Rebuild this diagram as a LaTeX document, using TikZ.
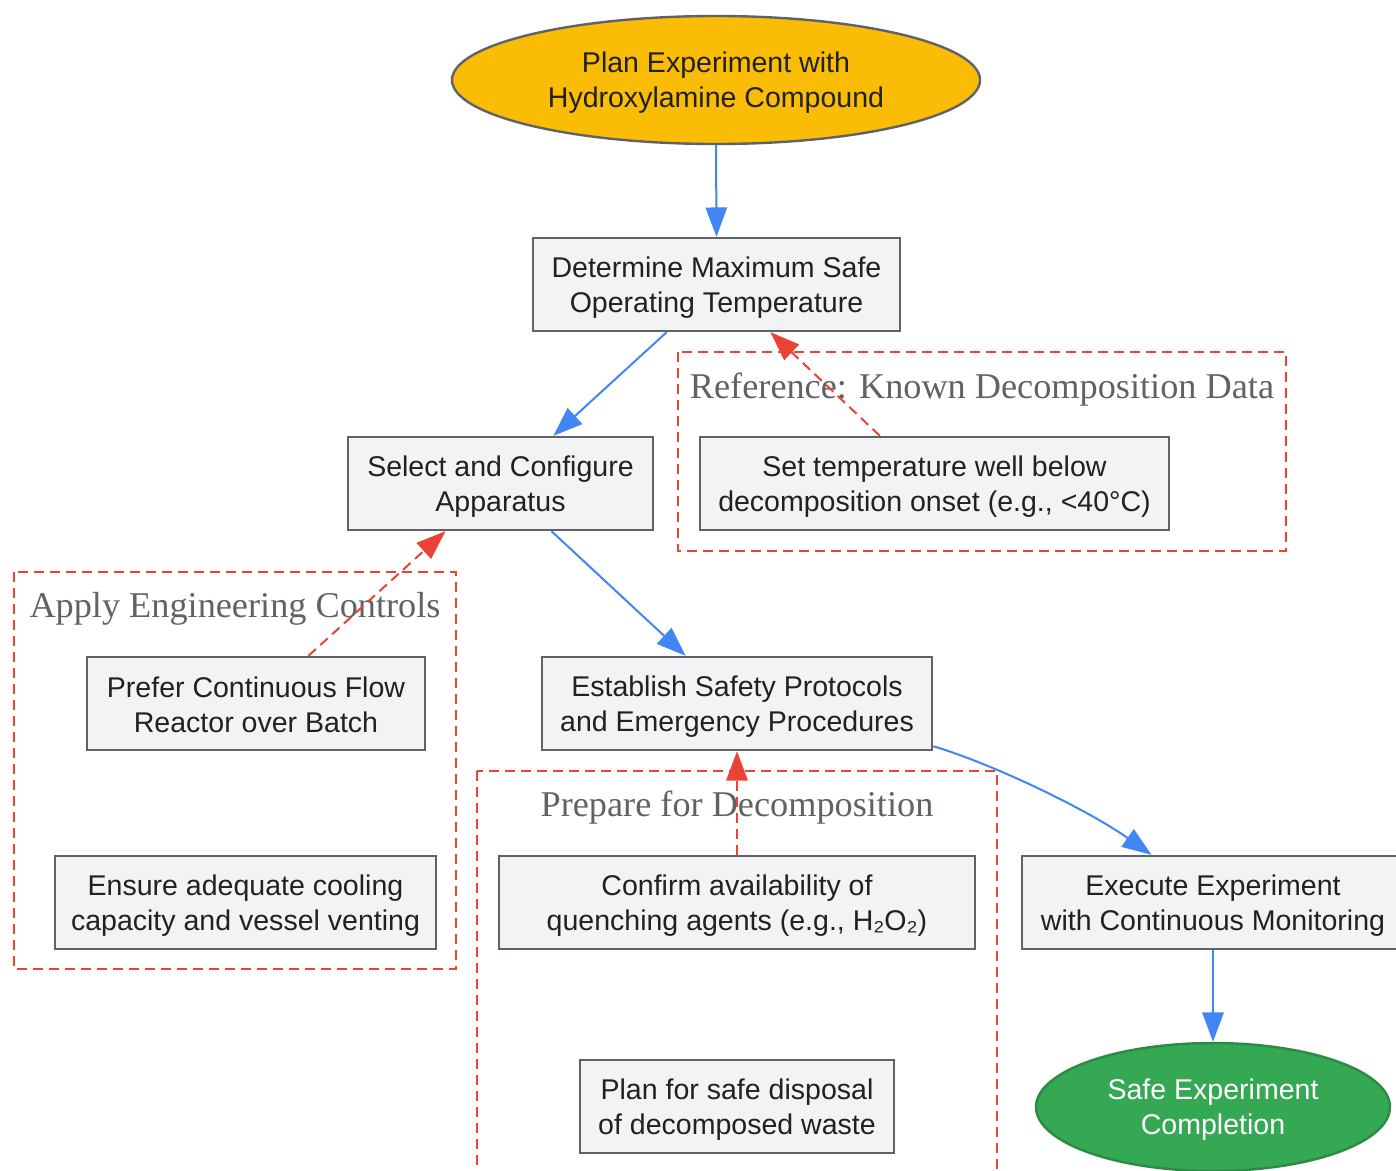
\documentclass[tikz,border=0pt]{standalone}
\usepackage{fontspec}
\usetikzlibrary{shapes.geometric,arrows.meta,calc}
\newfontfamily\nodefont{Liberation Sans}
\newfontfamily\titlefont{Liberation Serif}
\definecolor{cblue}{HTML}{4285F4}
\definecolor{cred}{HTML}{EA4335}
\definecolor{cgreen}{HTML}{34A853}
\definecolor{cgreenline}{HTML}{2B8A44}
\definecolor{cyellow}{HTML}{FBBC05}
\definecolor{cgray}{HTML}{5F6368}
\definecolor{cbox}{HTML}{F1F3F4}
\definecolor{ctext}{HTML}{202124}
\newcommand\mystrut{\rule[-3pt]{0pt}{23pt}}
\begin{document}
\begin{tikzpicture}[x=0.75pt,y=-0.75pt,
 sz/.style 2 args={minimum width=#1*0.75pt,minimum height=#2*0.75pt},
 box/.style={draw=cgray,fill=cbox,line width=1.8pt,inner sep=0pt,align=center,font=\nodefont\fontsize{21.4}{26.3}\selectfont,text=ctext},
 term/.style={ellipse,line width=1.8pt,inner sep=0pt,align=center,font=\nodefont\fontsize{21.4}{26.3}\selectfont},
 cluster/.style={draw=cred,line width=1.5pt,dash pattern=on 7.5pt off 4.5pt},
 ctitle/.style={font=\titlefont\fontsize{27.2}{32}\selectfont,text=cgray,inner sep=0pt},
 flow/.style={draw=cblue,line width=1.5pt,-{Triangle[length=22pt,width=16pt]}},
 refarrow/.style={draw=cred,line width=1.5pt,dash pattern=on 7.5pt off 4.5pt,-{Triangle[length=22pt,width=16pt]}},
]
\fill[white] (0,0) rectangle (1396,1171);
\useasboundingbox (0,0) rectangle (1396,1171);

% clusters
\draw[cluster] (678,352) rectangle (1286,551);
\draw[cluster] (14,572) rectangle (456,969);
\draw[cluster] (477,771) rectangle (997,1190);
\node[ctitle] (tref) at (982,390) {Reference: Known Decomposition Data};
\node[ctitle] (teng) at (235,609) {Apply Engineering Controls};
\node[ctitle] (tprep) at (737,808) {Prepare for Decomposition};

% nodes
\node[term,draw=cgray,fill=cyellow,text=ctext,sz={528}{128}] (start) at (716,80) {\mystrut Plan Experiment with\\\mystrut Hydroxylamine Compound};
\node[box,sz={367}{93}] (det) at (716.5,284.5) {\mystrut Determine Maximum Safe\\\mystrut Operating Temperature};
\node[box,sz={305}{93}] (sel) at (500.5,483.5) {\mystrut Select and Configure\\\mystrut Apparatus};
\node[box,sz={469}{93}] (set) at (934.5,483.5) {\mystrut Set temperature well below\\\mystrut decomposition onset (e.g., <40°C)};
\node[box,sz={338}{93}] (pref) at (256,703.5) {\mystrut Prefer Continuous Flow\\\mystrut Reactor over Batch};
\node[box,sz={390}{93}] (est) at (737,703.5) {\mystrut Establish Safety Protocols\\\mystrut and Emergency Procedures};
\node[box,sz={381}{93}] (ens) at (245.5,902.5) {\mystrut Ensure adequate cooling\\\mystrut capacity and vessel venting};
\node[box,sz={476}{93}] (conf) at (737,902.5) {\mystrut Confirm availability of\\\mystrut quenching agents (e.g., H₂O₂)};
\node[box,sz={382}{93}] (exe) at (1213,902.5) {\mystrut Execute Experiment\\\mystrut with Continuous Monitoring};
\node[box,sz={314}{93}] (disp) at (737,1106.5) {\mystrut Plan for safe disposal\\\mystrut of decomposed waste};
\node[term,draw=cgreenline,fill=cgreen,text=white,sz={354}{128}] (safe) at (1213,1107) {\mystrut Safe Experiment\\\mystrut Completion};

% flow edges
\draw[flow] (start.south) -- (det.north);
\draw[flow] ($(det.south west)!0.365!(det.south east)$) -- ($(sel.north west)!0.672!(sel.north east)$);
\draw[flow] ($(sel.south west)!0.666!(sel.south east)$) -- ($(est.north west)!0.369!(est.north east)$);
\draw[flow] ($(est.south east)+(0,-5)$) .. controls (990,763) and (1085,808) .. ($(exe.north west)!0.34!(exe.north east)$);
\draw[flow] (exe.south) -- (safe.north);

% reference edges
\draw[refarrow] ($(set.north west)!0.384!(set.north east)$) -- ($(det.south west)!0.646!(det.south east)$);
\draw[refarrow] ($(pref.north west)!0.654!(pref.north east)$) -- ($(sel.south west)!0.321!(sel.south east)$);
\draw[refarrow] (conf.north) -- (est.south);
\end{tikzpicture}
\end{document}
